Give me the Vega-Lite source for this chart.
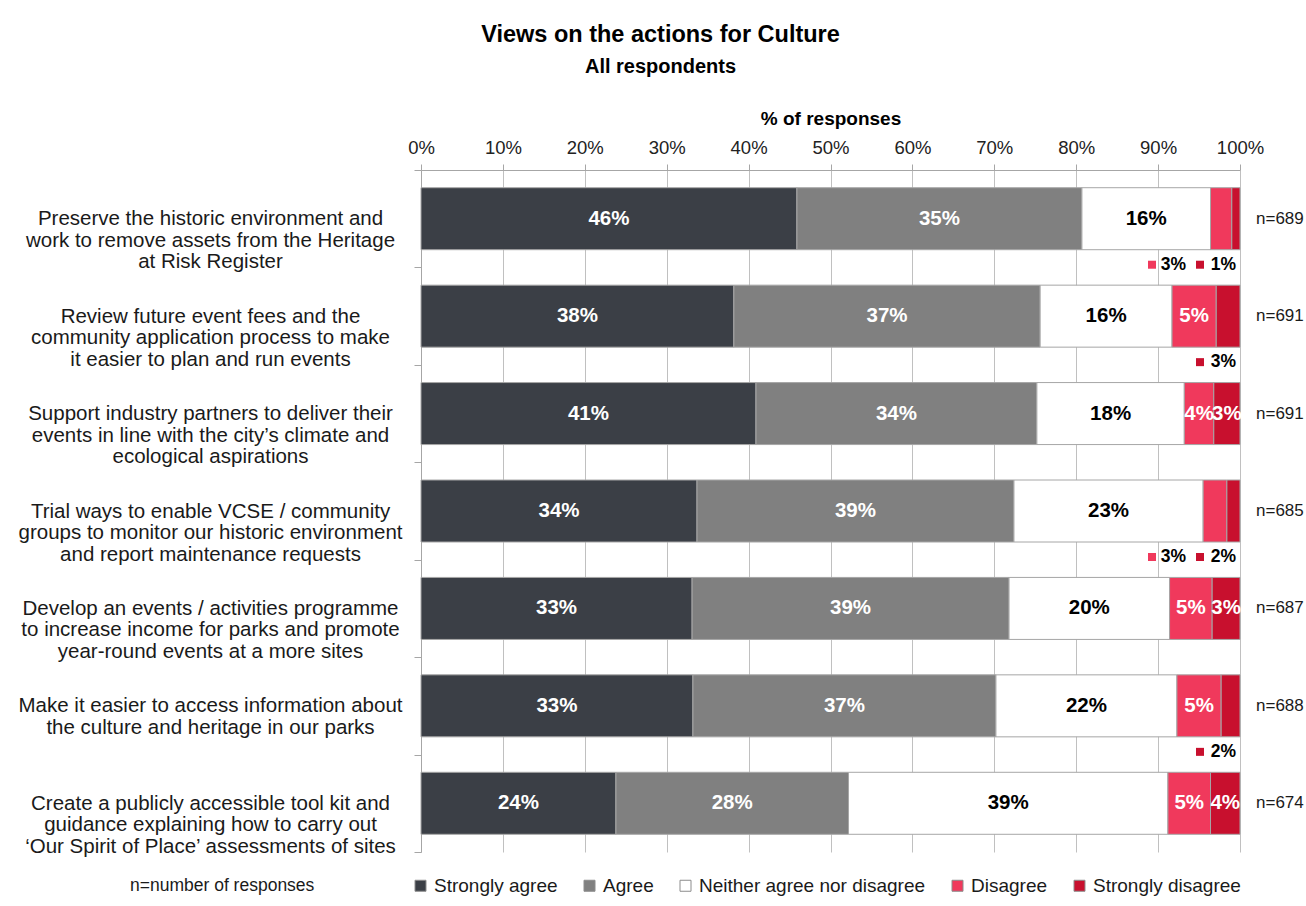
{
  "$schema": "https://vega.github.io/schema/vega-lite/v6.json",
  "autosize": "none",
  "width": 819,
  "height": 682,
  "padding": {"left": 421, "top": 170, "right": 66, "bottom": 54},
  "background": "white",
  "config": {"font": "Liberation Sans", "view": {"stroke": null}},
  "title": {
    "text": "Views on the actions for Culture",
    "subtitle": "All respondents",
    "anchor": "middle",
    "frame": "group",
    "dx": -170,
    "fontSize": 23.5,
    "fontWeight": "bold",
    "color": "#000000",
    "subtitleFontSize": 20,
    "subtitleFontWeight": "bold",
    "subtitleColor": "#000000",
    "subtitlePadding": 11,
    "offset": 32
  },
  "datasets": {
    "seg": [
      {"question": "Preserve the historic environment and|work to remove assets from the Heritage|at Risk Register", "resp": "Strongly agree", "k": 1, "value": 0.459},
      {"question": "Preserve the historic environment and|work to remove assets from the Heritage|at Risk Register", "resp": "Agree", "k": 2, "value": 0.348},
      {"question": "Preserve the historic environment and|work to remove assets from the Heritage|at Risk Register", "resp": "Neither agree nor disagree", "k": 3, "value": 0.157},
      {"question": "Preserve the historic environment and|work to remove assets from the Heritage|at Risk Register", "resp": "Disagree", "k": 4, "value": 0.026},
      {"question": "Preserve the historic environment and|work to remove assets from the Heritage|at Risk Register", "resp": "Strongly disagree", "k": 5, "value": 0.010},
      {"question": "Review future event fees and the|community application process to make|it easier to plan and run events", "resp": "Strongly agree", "k": 1, "value": 0.382},
      {"question": "Review future event fees and the|community application process to make|it easier to plan and run events", "resp": "Agree", "k": 2, "value": 0.374},
      {"question": "Review future event fees and the|community application process to make|it easier to plan and run events", "resp": "Neither agree nor disagree", "k": 3, "value": 0.161},
      {"question": "Review future event fees and the|community application process to make|it easier to plan and run events", "resp": "Disagree", "k": 4, "value": 0.054},
      {"question": "Review future event fees and the|community application process to make|it easier to plan and run events", "resp": "Strongly disagree", "k": 5, "value": 0.029},
      {"question": "Support industry partners to deliver their|events in line with the city’s climate and|ecological aspirations", "resp": "Strongly agree", "k": 1, "value": 0.409},
      {"question": "Support industry partners to deliver their|events in line with the city’s climate and|ecological aspirations", "resp": "Agree", "k": 2, "value": 0.343},
      {"question": "Support industry partners to deliver their|events in line with the city’s climate and|ecological aspirations", "resp": "Neither agree nor disagree", "k": 3, "value": 0.180},
      {"question": "Support industry partners to deliver their|events in line with the city’s climate and|ecological aspirations", "resp": "Disagree", "k": 4, "value": 0.036},
      {"question": "Support industry partners to deliver their|events in line with the city’s climate and|ecological aspirations", "resp": "Strongly disagree", "k": 5, "value": 0.032},
      {"question": "Trial ways to enable VCSE / community|groups to monitor our historic environment|and report maintenance requests", "resp": "Strongly agree", "k": 1, "value": 0.337},
      {"question": "Trial ways to enable VCSE / community|groups to monitor our historic environment|and report maintenance requests", "resp": "Agree", "k": 2, "value": 0.387},
      {"question": "Trial ways to enable VCSE / community|groups to monitor our historic environment|and report maintenance requests", "resp": "Neither agree nor disagree", "k": 3, "value": 0.231},
      {"question": "Trial ways to enable VCSE / community|groups to monitor our historic environment|and report maintenance requests", "resp": "Disagree", "k": 4, "value": 0.029},
      {"question": "Trial ways to enable VCSE / community|groups to monitor our historic environment|and report maintenance requests", "resp": "Strongly disagree", "k": 5, "value": 0.016},
      {"question": "Develop an events / activities programme|to increase income for parks and promote|year-round events at a more sites", "resp": "Strongly agree", "k": 1, "value": 0.331},
      {"question": "Develop an events / activities programme|to increase income for parks and promote|year-round events at a more sites", "resp": "Agree", "k": 2, "value": 0.387},
      {"question": "Develop an events / activities programme|to increase income for parks and promote|year-round events at a more sites", "resp": "Neither agree nor disagree", "k": 3, "value": 0.196},
      {"question": "Develop an events / activities programme|to increase income for parks and promote|year-round events at a more sites", "resp": "Disagree", "k": 4, "value": 0.052},
      {"question": "Develop an events / activities programme|to increase income for parks and promote|year-round events at a more sites", "resp": "Strongly disagree", "k": 5, "value": 0.034},
      {"question": "Make it easier to access information about|the culture and heritage in our parks", "resp": "Strongly agree", "k": 1, "value": 0.332},
      {"question": "Make it easier to access information about|the culture and heritage in our parks", "resp": "Agree", "k": 2, "value": 0.370},
      {"question": "Make it easier to access information about|the culture and heritage in our parks", "resp": "Neither agree nor disagree", "k": 3, "value": 0.221},
      {"question": "Make it easier to access information about|the culture and heritage in our parks", "resp": "Disagree", "k": 4, "value": 0.054},
      {"question": "Make it easier to access information about|the culture and heritage in our parks", "resp": "Strongly disagree", "k": 5, "value": 0.023},
      {"question": "Create a publicly accessible tool kit and|guidance explaining how to carry out|‘Our Spirit of Place’ assessments of sites", "resp": "Strongly agree", "k": 1, "value": 0.238},
      {"question": "Create a publicly accessible tool kit and|guidance explaining how to carry out|‘Our Spirit of Place’ assessments of sites", "resp": "Agree", "k": 2, "value": 0.284},
      {"question": "Create a publicly accessible tool kit and|guidance explaining how to carry out|‘Our Spirit of Place’ assessments of sites", "resp": "Neither agree nor disagree", "k": 3, "value": 0.390},
      {"question": "Create a publicly accessible tool kit and|guidance explaining how to carry out|‘Our Spirit of Place’ assessments of sites", "resp": "Disagree", "k": 4, "value": 0.052},
      {"question": "Create a publicly accessible tool kit and|guidance explaining how to carry out|‘Our Spirit of Place’ assessments of sites", "resp": "Strongly disagree", "k": 5, "value": 0.036}
    ],
    "q": [
      {"question": "Preserve the historic environment and|work to remove assets from the Heritage|at Risk Register", "n": "n=689"},
      {"question": "Review future event fees and the|community application process to make|it easier to plan and run events", "n": "n=691"},
      {"question": "Support industry partners to deliver their|events in line with the city’s climate and|ecological aspirations", "n": "n=691"},
      {"question": "Trial ways to enable VCSE / community|groups to monitor our historic environment|and report maintenance requests", "n": "n=685"},
      {"question": "Develop an events / activities programme|to increase income for parks and promote|year-round events at a more sites", "n": "n=687"},
      {"question": "Make it easier to access information about|the culture and heritage in our parks", "n": "n=688"},
      {"question": "Create a publicly accessible tool kit and|guidance explaining how to carry out|‘Our Spirit of Place’ assessments of sites", "n": "n=674"}
    ]
  },
  "data": {"name": "seg"},
  "encoding": {
    "y": {
      "field": "question",
      "type": "nominal",
      "scale": {
        "domain": [
          "Preserve the historic environment and|work to remove assets from the Heritage|at Risk Register",
          "Review future event fees and the|community application process to make|it easier to plan and run events",
          "Support industry partners to deliver their|events in line with the city’s climate and|ecological aspirations",
          "Trial ways to enable VCSE / community|groups to monitor our historic environment|and report maintenance requests",
          "Develop an events / activities programme|to increase income for parks and promote|year-round events at a more sites",
          "Make it easier to access information about|the culture and heritage in our parks",
          "Create a publicly accessible tool kit and|guidance explaining how to carry out|‘Our Spirit of Place’ assessments of sites"
        ],
        "paddingInner": 0,
        "paddingOuter": 0
      },
      "axis": {
        "title": null,
        "labelExpr": "split(datum.label, '|')",
        "labelAlign": "center",
        "labelBaseline": "middle",
        "labelFontSize": 20.5,
        "labelLineHeight": 21.5,
        "labelPadding": 204,
        "labelLimit": 600,
        "labelColor": "#1a1a1a",
        "labelOverlap": false,
        "labelBound": false,
        "tickBand": "extent",
        "tickSize": 7,
        "tickColor": "#a6a6a6",
        "domainColor": "#a6a6a6"
      }
    }
  },
  "layer": [
    {
      "mark": {"type": "bar", "size": 62, "stroke": "#a6a6a6", "strokeWidth": 1},
      "encoding": {
        "x": {
          "field": "value",
          "type": "quantitative",
          "stack": "zero",
          "scale": {"domain": [0, 1], "nice": false},
          "axis": {
            "orient": "top",
            "values": [0, 0.1, 0.2, 0.3, 0.4, 0.5, 0.6, 0.7, 0.8, 0.9, 1],
            "format": ".0%",
            "grid": true,
            "gridColor": "#c0c0c0",
            "domainColor": "#a6a6a6",
            "tickColor": "#a6a6a6",
            "tickSize": 6,
            "labelFontSize": 18.5,
            "labelColor": "#222222",
            "labelPadding": 7,
            "labelFlush": false,
            "title": "% of responses",
            "titleFontSize": 19,
            "titleFontWeight": "bold",
            "titleColor": "#000000",
            "titlePadding": 10
          }
        },
        "color": {
          "field": "resp",
          "type": "nominal",
          "sort": ["Strongly agree", "Agree", "Neither agree nor disagree", "Disagree", "Strongly disagree"],
          "scale": {
            "domain": ["Strongly agree", "Agree", "Neither agree nor disagree", "Disagree", "Strongly disagree"],
            "range": ["#3b3f46", "#808080", "#ffffff", "#f0395c", "#c8102e"]
          },
          "legend": {
            "orient": "none",
            "legendX": -291,
            "legendY": 706,
            "direction": "horizontal",
            "title": "n=number of responses",
            "titleOrient": "left",
            "titleFontSize": 17.5,
            "titleFontWeight": "normal",
            "titleColor": "#1a1a1a",
            "titleLimit": 400,
            "titlePadding": 96,
            "labelFontSize": 19,
            "labelLimit": 400,
            "labelColor": "#1a1a1a",
            "symbolType": "square",
            "symbolSize": 121,
            "symbolStrokeColor": "#8c8c8c",
            "symbolStrokeWidth": 1,
            "symbolOpacity": 1,
            "labelOffset": 4,
            "columnPadding": 22
          }
        },
        "order": {"field": "k", "type": "quantitative"}
      }
    },
    {
      "mark": {"type": "text", "fontSize": 20.5, "fontWeight": "bold"},
      "encoding": {
        "x": {"field": "value", "type": "quantitative", "stack": "zero", "bandPosition": 0.5},
        "detail": {"field": "resp", "type": "nominal"},
        "order": {"field": "k", "type": "quantitative"},
        "text": {"condition": {"test": "datum.value < 0.03", "value": ""}, "field": "value", "type": "quantitative", "format": ".0%"},
        "color": {"condition": {"test": "datum.resp === 'Neither agree nor disagree'", "value": "#000000"}, "value": "#ffffff"}
      }
    },
    {
      "transform": [{"filter": "datum.resp === 'Disagree' && datum.value < 0.03"}],
      "mark": {"type": "point", "shape": "square", "filled": true, "size": 64, "opacity": 1, "color": "#f0395c", "xOffset": -88, "yOffset": 46},
      "encoding": {"x": {"datum": 1, "type": "quantitative"}}
    },
    {
      "transform": [{"filter": "datum.resp === 'Disagree' && datum.value < 0.03"}],
      "mark": {"type": "text", "align": "right", "dx": -54, "dy": 46, "fontSize": 17.5, "fontWeight": "bold", "color": "#000000"},
      "encoding": {
        "x": {"datum": 1, "type": "quantitative"},
        "text": {"field": "value", "type": "quantitative", "format": ".0%"}
      }
    },
    {
      "transform": [{"filter": "datum.resp === 'Strongly disagree' && datum.value < 0.03"}],
      "mark": {"type": "point", "shape": "square", "filled": true, "size": 64, "opacity": 1, "color": "#c8102e", "xOffset": -40, "yOffset": 46},
      "encoding": {"x": {"datum": 1, "type": "quantitative"}}
    },
    {
      "transform": [{"filter": "datum.resp === 'Strongly disagree' && datum.value < 0.03"}],
      "mark": {"type": "text", "align": "right", "dx": -4, "dy": 46, "fontSize": 17.5, "fontWeight": "bold", "color": "#000000"},
      "encoding": {
        "x": {"datum": 1, "type": "quantitative"},
        "text": {"field": "value", "type": "quantitative", "format": ".0%"}
      }
    },
    {
      "data": {"name": "q"},
      "mark": {"type": "text", "align": "left", "dx": 16, "fontSize": 17, "color": "#1a1a1a"},
      "encoding": {
        "x": {"datum": 1, "type": "quantitative"},
        "text": {"field": "n", "type": "nominal"}
      }
    }
  ]
}
